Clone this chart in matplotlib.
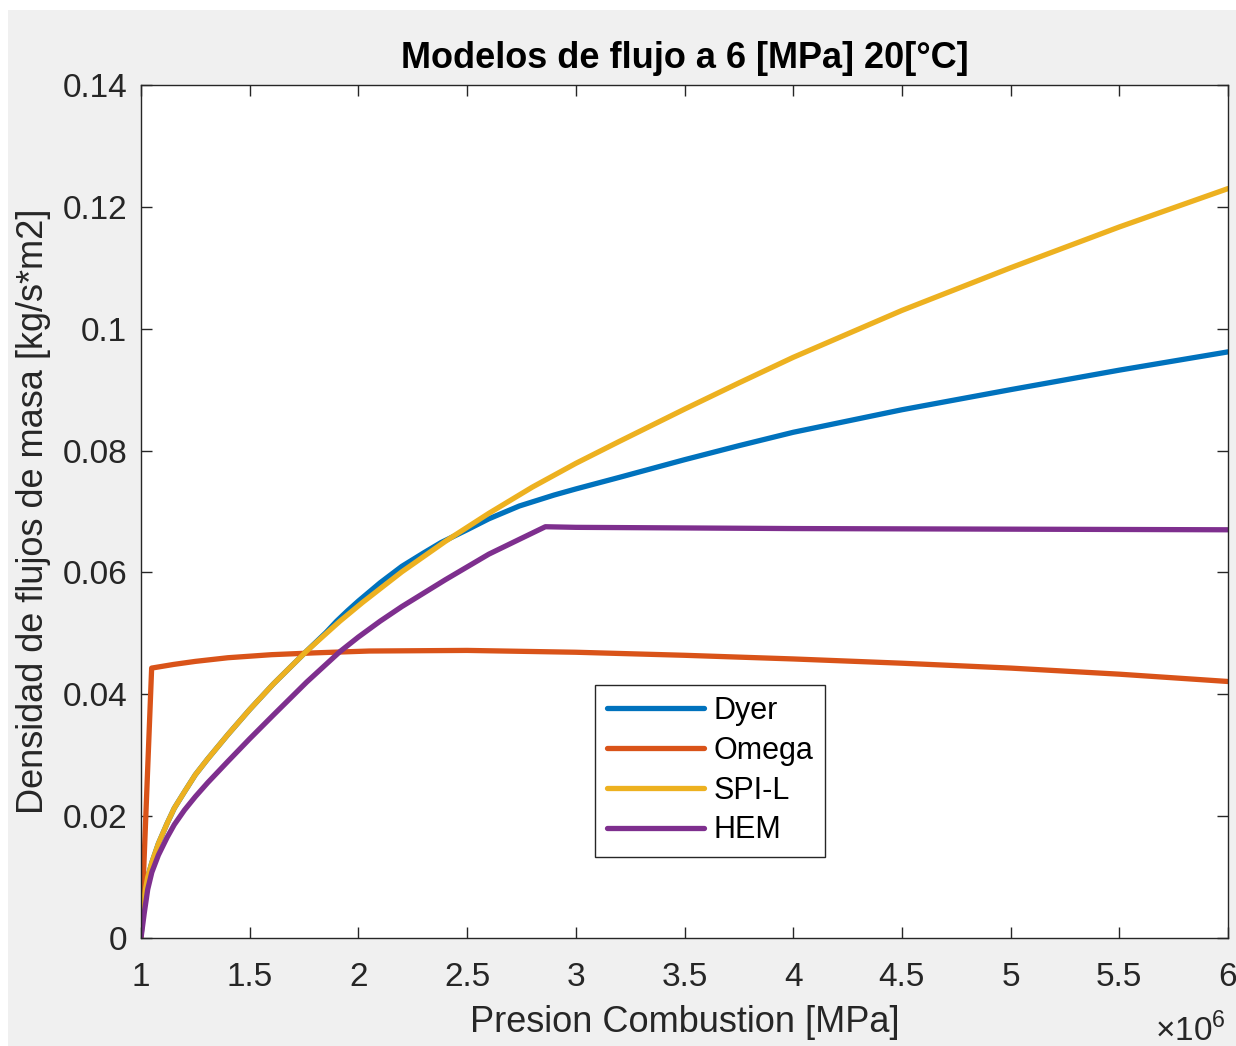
import matplotlib
matplotlib.use('Agg')
from matplotlib import pyplot as plt
from matplotlib.ticker import FuncFormatter, MultipleLocator
from matplotlib.patches import Rectangle

plt.rcParams['font.family'] = ['Liberation Sans', 'DejaVu Sans']
plt.rcParams['mathtext.fontset'] = 'custom'
plt.rcParams['mathtext.rm'] = 'Liberation Sans'

# presion de combustion [MPa] y densidad de flujo de masa [kg/s*m2]
dyer_p = [1.0, 1.01, 1.02, 1.031, 1.05, 1.08, 1.12, 1.153, 1.2, 1.25, 1.307, 1.4, 1.5, 1.609, 1.762,
          1.85, 1.9, 1.95, 2.0, 2.1, 2.2, 2.3, 2.38, 2.5, 2.6, 2.74, 2.9, 3.0, 3.2, 3.5, 3.75, 4.0, 4.5,
          5.0, 5.5, 6.0]
dyer_g = [0.0, 0.0055, 0.0079, 0.0100, 0.0124, 0.0155, 0.0188, 0.0213, 0.0240, 0.0268, 0.0294, 0.0334,
          0.0375, 0.0417, 0.0471, 0.0501, 0.0520, 0.0537, 0.0553, 0.0583, 0.0610, 0.0632, 0.0649, 0.0670,
          0.0688, 0.0709, 0.0727, 0.0737, 0.0756, 0.0785, 0.0808, 0.0830, 0.0867, 0.0900, 0.0932, 0.0962]

omega_p = [1.0, 1.049, 1.15, 1.25, 1.4, 1.6, 1.8, 2.05, 2.5, 3.0, 3.5, 4.0, 4.5, 5.0, 5.5, 6.0]
omega_g = [0.0, 0.0443, 0.0449, 0.0454, 0.0460, 0.0465, 0.0468, 0.0471, 0.0472, 0.0469, 0.0464, 0.0458,
           0.0451, 0.0443, 0.0433, 0.0421]

spil_p = [1.0, 1.01, 1.02, 1.031, 1.05, 1.08, 1.12, 1.153, 1.2, 1.25, 1.307, 1.4, 1.5, 1.609, 1.762,
          1.915, 2.02, 2.2, 2.4, 2.6, 2.8, 3.0, 3.2, 3.5, 3.75, 4.0, 4.5, 5.0, 5.5, 6.0]
spil_g = [0.0, 0.0055, 0.0079, 0.0100, 0.0124, 0.0155, 0.0188, 0.0213, 0.0240, 0.0268, 0.0294, 0.0334,
          0.0375, 0.0417, 0.0471, 0.0520, 0.0551, 0.0601, 0.0651, 0.0697, 0.0740, 0.0779, 0.0815, 0.0868,
          0.0911, 0.0953, 0.1030, 0.1100, 0.1167, 0.1230]

hem_p = [1.0, 1.015, 1.031, 1.05, 1.08, 1.12, 1.153, 1.2, 1.25, 1.307, 1.4, 1.5, 1.609, 1.762, 1.915,
         2.0, 2.1, 2.2, 2.4, 2.6, 2.75, 2.86, 3.0, 4.0, 5.0, 6.0]
hem_g = [0.0, 0.0041, 0.0080, 0.0108, 0.0136, 0.0165, 0.0186, 0.0210, 0.0232, 0.0255, 0.0290, 0.0327,
         0.0366, 0.0420, 0.0470, 0.0494, 0.0520, 0.0544, 0.0588, 0.0630, 0.0656, 0.0675, 0.0674, 0.0672,
         0.0671, 0.0670]

series = [
    ('Dyer', dyer_p, dyer_g, '#0072BD'),
    ('Omega', omega_p, omega_g, '#D95319'),
    ('SPI-L', spil_p, spil_g, '#EDB120'),
    ('HEM', hem_p, hem_g, '#7E2F8E'),
]

W, H = 1236, 1046
fig = plt.figure(figsize=(W / 100, H / 100), dpi=100)
fig.patch.set_facecolor('white')
fig.patches.append(Rectangle((8 / W, 0), 1 - 8 / W, 1 - 10 / H, transform=fig.transFigure,
                             facecolor='#f0f0f0', edgecolor='none', zorder=-10))

ax = fig.add_axes([141 / W, 108 / H, (1228 - 141) / W, (938 - 85) / H])
for name, p, g, c in series:
    ax.plot([v * 1e6 for v in p], g, color=c, lw=3.8, label=name,
            solid_joinstyle='round', solid_capstyle='round')

ax.set_xlim(1e6, 6e6)
ax.set_ylim(0, 0.14)
ax.xaxis.set_major_locator(MultipleLocator(0.5e6))
ax.yaxis.set_major_locator(MultipleLocator(0.02))
ax.xaxis.set_major_formatter(FuncFormatter(lambda v, pos: f'{v / 1e6:g}'))
ax.yaxis.set_major_formatter(FuncFormatter(lambda v, pos: f'{v:g}'))

dark = '#262626'
for s in ax.spines.values():
    s.set_color(dark)
    s.set_linewidth(1.0)
ax.tick_params(direction='in', length=8, width=1.0, colors=dark, labelsize=24,
               top=True, right=True)
ax.tick_params(axis='x', pad=17)
ax.tick_params(axis='y', pad=10)

ax.set_title('Modelos de flujo a 6 [MPa] 20[°C]', fontsize=26, fontweight='bold', pad=12)
ax.set_xlabel('Presion Combustion [MPa]', fontsize=26, color=dark, labelpad=9)
ax.set_ylabel('Densidad de flujos de masa [kg/s*m2]', fontsize=26, color=dark, labelpad=8)
fig.text(1226 / W, 1 - 1030 / H, r'$\times10^6$', ha='right', va='center', fontsize=24, color=dark)

leg = ax.legend(loc='center', bbox_to_anchor=(0.5235, 0.196), fontsize=22, handlelength=3.2,
                fancybox=False, framealpha=1, edgecolor=dark, borderpad=0.38, labelspacing=0.32,
                handletextpad=0.3, borderaxespad=0)
leg.get_frame().set_linewidth(1.0)

fig.savefig('out.png', dpi=100, facecolor=fig.get_facecolor())
